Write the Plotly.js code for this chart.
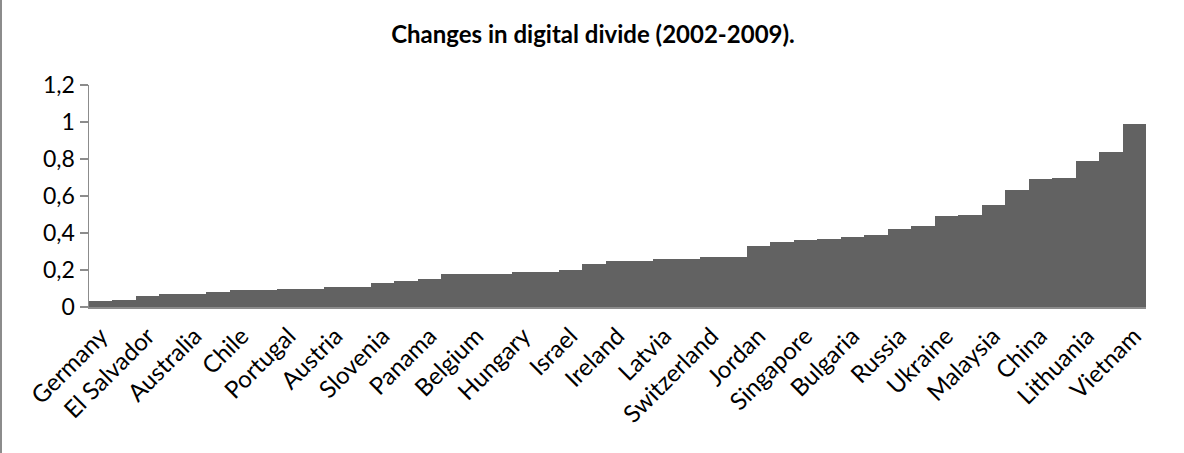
<!DOCTYPE html>
<html>
<head>
<meta charset="utf-8">
<script src="https://cdn.plot.ly/plotly-3.0.1.min.js"></script>
<style>
  html, body { margin: 0; padding: 0; background: #fff; }
  #chart { width: 1182px; height: 453px; border-left: 2px solid #8c8c8c; }
</style>
</head>
<body>
<div id="chart"></div>
<script>
// Values for the 45 countries, sorted ascending
const values = [
  0.03, 0.04, 0.06, 0.07, 0.07, 0.08, 0.09, 0.09, 0.10, 0.10,
  0.11, 0.11, 0.13, 0.14, 0.15, 0.18, 0.18, 0.18, 0.19, 0.19,
  0.20, 0.23, 0.25, 0.25, 0.26, 0.26, 0.27, 0.27, 0.33, 0.35,
  0.36, 0.37, 0.38, 0.39, 0.42, 0.44, 0.49, 0.50, 0.55, 0.63,
  0.69, 0.70, 0.79, 0.84, 0.99
];
// Only every other country is labelled on the axis (positions 1, 3, 5, ... 45)
const shownLabels = [
  "Germany", "El Salvador", "Australia", "Chile", "Portugal", "Austria",
  "Slovenia", "Panama", "Belgium", "Hungary", "Israel", "Ireland",
  "Latvia", "Switzerland", "Jordan", "Singapore", "Bulgaria", "Russia",
  "Ukraine", "Malaysia", "China", "Lithuania", "Vietnam"
];
const yTicks = [0, 0.2, 0.4, 0.6, 0.8, 1, 1.2];

const positions = values.map((v, i) => i + 1);
const labelPositions = shownLabels.map((s, i) => 2 * i + 1);

const font = "Lato, 'Liberation Sans', sans-serif";

Plotly.newPlot("chart", [{
  type: "bar",
  x: positions,
  y: values,
  marker: { color: "#626262", line: { width: 0 } },
  hoverinfo: "y"
}], {
  width: 1182,
  height: 453,
  margin: { l: 86.5, r: 38.3, t: 84.7, b: 145.7 },
  paper_bgcolor: "#ffffff",
  plot_bgcolor: "#ffffff",
  separators: ", ",
  bargap: 0,
  showlegend: false,
  font: { family: font, color: "#000000" },
  title: {
    text: "<b>Changes in digital divide (2002-2009).</b>",
    font: { family: font, size: 24, color: "#000000" },
    x: 0.5, xref: "container", xanchor: "center",
    y: 1 - 35 / 453, yref: "container", yanchor: "middle"
  },
  xaxis: {
    range: [0.5, values.length + 0.5],
    tickmode: "array",
    tickvals: labelPositions,
    ticktext: shownLabels,
    tickangle: -45,
    tickfont: { family: font, size: 24, color: "#000000" },
    ticks: "outside",
    ticklen: 4,
    tickcolor: "rgba(0,0,0,0)",
    showgrid: false,
    zeroline: false,
    showline: true,
    linecolor: "#8c8c8c",
    linewidth: 1.5
  },
  yaxis: {
    range: [0, 1.2],
    tickmode: "array",
    tickvals: yTicks,
    tickfont: { family: font, size: 23, color: "#000000" },
    ticks: "outside",
    ticklen: 8,
    tickcolor: "#8c8c8c",
    tickwidth: 1.5,
    showgrid: false,
    zeroline: false,
    showline: true,
    linecolor: "#8c8c8c",
    linewidth: 1.5
  }
}, { displayModeBar: false, staticPlot: true });
</script>
</body>
</html>
